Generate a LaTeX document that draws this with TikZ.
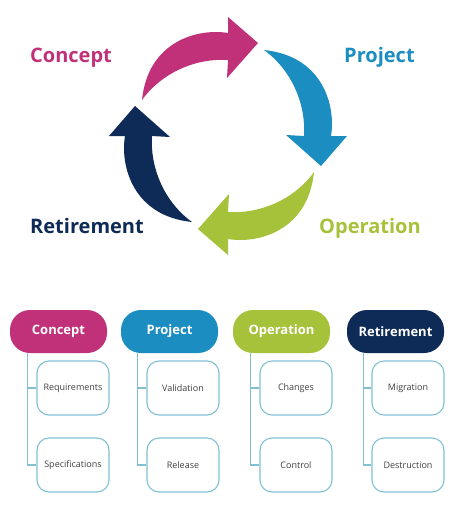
\documentclass[tikz,border=0pt]{standalone}
\usepackage{fontspec}
\setmainfont{Open Sans}
\usetikzlibrary{positioning}

\definecolor{cpink}{RGB}{192,49,122}
\definecolor{pblue}{RGB}{27,141,193}
\definecolor{ogreen}{RGB}{166,194,58}
\definecolor{rnavy}{RGB}{14,42,86}
\definecolor{lineblue}{RGB}{128,192,210}

\begin{document}
\begin{tikzpicture}[
  x=1pt, y=-1pt,
  phase/.style={font=\fontsize{20}{24}\selectfont\bfseries, anchor=base west, inner sep=0pt},
  head/.style={rounded corners=20pt, minimum width=97pt, minimum height=43pt,
    text=white, font=\fontsize{13}{15}\selectfont\bfseries},
  task/.style={draw=lineblue, line width=1.1pt, rounded corners=12pt,
    minimum width=72pt, minimum height=54pt, text=black!75,
    font=\fontsize{9}{11}\selectfont},
  branch/.style={draw=lineblue, line width=1.1pt}
]
\useasboundingbox (0,0) rectangle (471,514);

% cycle of four arrows
\foreach \ang/\col in {0/cpink, -90/pblue, -180/ogreen, -270/rnavy}{
  \fill[\col, shift={(228,136)}, rotate=\ang]
    (-86,-36) .. controls (-80,-95) and (-30,-108) .. (0,-103)
    -- (0,-119) -- (30,-93) -- (-1,-58) -- (0,-76)
    .. controls (-30,-78) and (-65,-65) .. cycle;
}

\node[phase, text=cpink] (lcpt) at (30,62) {Concept};
\node[phase, text=pblue] (lprj) at (344,62) {Project};
\node[phase, text=rnavy] (lret) at (30,233) {Retirement};
\node[phase, text=ogreen] (lope) at (319,233) {Operation};

% phase headers
\node[head, fill=cpink] (cpt) at (58.5,331.5) {Concept};
\node[head, fill=pblue] (prj) at (169.5,331.5) {Project};
\node[head, fill=ogreen] (ope) at (281.5,331.5) {Operation};
\node[head, fill=rnavy] (ret) at (395.5,331.5) {Retirement};

% tasks
\node[task] (req) at (73,388) {Requirements};
\node[task] (spc) at (73,465) {Specifications};
\node[task] (val) at (183,388) {Validation};
\node[task] (rel) at (183,465) {Release};
\node[task] (chg) at (296,388) {Changes};
\node[task] (ctl) at (296,465) {Control};
\node[task] (mig) at (408,388) {Migration};
\node[task] (dst) at (408,465) {Destruction};

\draw[branch] ([xshift=18pt]cpt.south west) |- (req.west);
\draw[branch] ([xshift=18pt]cpt.south west) |- (spc.west);
\draw[branch] ([xshift=17pt]prj.south west) |- (val.west);
\draw[branch] ([xshift=17pt]prj.south west) |- (rel.west);
\draw[branch] ([xshift=18pt]ope.south west) |- (chg.west);
\draw[branch] ([xshift=18pt]ope.south west) |- (ctl.west);
\draw[branch] ([xshift=17pt]ret.south west) |- (mig.west);
\draw[branch] ([xshift=17pt]ret.south west) |- (dst.west);
\end{tikzpicture}
\end{document}
